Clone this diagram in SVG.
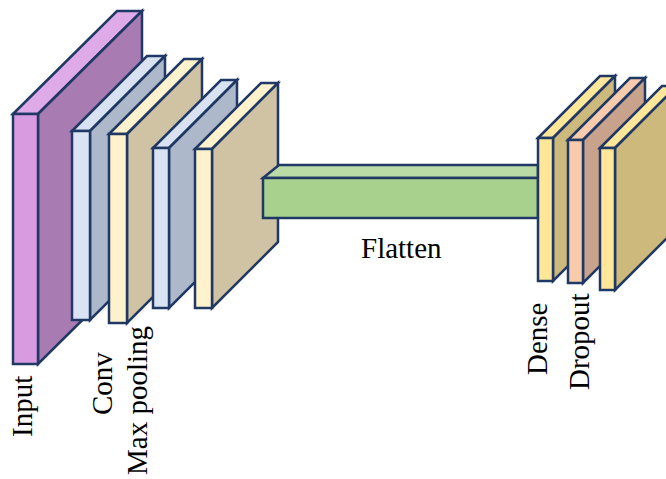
<svg xmlns="http://www.w3.org/2000/svg" width="666" height="479" viewBox="0 0 666 479">
<style>
  .s{stroke:#1f3864;stroke-width:2.5;stroke-linejoin:miter}
  .lbl{font-family:"Liberation Serif","Times New Roman",serif;font-size:29px;fill:#000}
  .in-f{fill:#d89be0}.in-t{fill:#dfaae8}.in-s{fill:#a97bb3}
  .cv-f{fill:#dae3f3}.cv-t{fill:#d9e2f2}.cv-s{fill:#adb9ca}
  .mp-f{fill:#fff2cc}.mp-t{fill:#fff2cc}.mp-s{fill:#d0c3a3}
  .fl-f{fill:#a9d18e}.fl-t{fill:#badba6}
  .de-f{fill:#ffe699}.de-t{fill:#ffe699}.de-s{fill:#cdb97b}
  .dr-f{fill:#f8cbad}.dr-t{fill:#f8cbad}.dr-s{fill:#c9a28b}
</style>
<rect width="666" height="479" fill="#ffffff"/>
<g id="input">
  <polygon class="s in-t" points="13,114 117,11 142,11 38,114"/>
  <polygon class="s in-s" points="38,114 142,11 142,261 38,364"/>
  <rect class="s in-f" x="13" y="114" width="25" height="250"/>
</g>
<g id="conv1">
  <polygon class="s cv-t" points="72,131 147,56 165,56 90,131"/>
  <polygon class="s cv-s" points="90,131 165,56 165,245 90,320"/>
  <rect class="s cv-f" x="72" y="131" width="18" height="189"/>
</g>
<g id="maxpool1">
  <polygon class="s mp-t" points="109,134 184,59 202,59 127,134"/>
  <polygon class="s mp-s" points="127,134 202,59 202,248 127,323"/>
  <rect class="s mp-f" x="109" y="134" width="18" height="189"/>
</g>
<g id="conv2">
  <polygon class="s cv-t" points="153,148 221,80 237,80 169,148"/>
  <polygon class="s cv-s" points="169,148 237,80 237,240 169,308"/>
  <rect class="s cv-f" x="153" y="148" width="16" height="160"/>
</g>
<g id="maxpool2">
  <polygon class="s mp-t" points="195,149 261,83 278,83 212,149"/>
  <polygon class="s mp-s" points="212,149 278,83 278,242 212,308"/>
  <rect class="s mp-f" x="195" y="149" width="17" height="159"/>
</g>
<g id="flatten">
  <polygon class="s fl-t" points="263,178 279,165 538,165 538,178"/>
  <rect class="s fl-f" x="263" y="178" width="275" height="40"/>
  <text class="lbl" x="361" y="258">Flatten</text>
</g>
<g id="dense">
  <polygon class="s de-t" points="538,138 600,76 615,76 553,138"/>
  <polygon class="s de-s" points="553,138 615,76 615,219 553,281"/>
  <rect class="s de-f" x="538" y="138" width="15" height="143"/>
</g>
<g id="dropout">
  <polygon class="s dr-t" points="568,140 630,78 645,78 583,140"/>
  <polygon class="s dr-s" points="583,140 645,78 645,221 583,283"/>
  <rect class="s dr-f" x="568" y="140" width="15" height="143"/>
</g>
<g id="dense2">
  <polygon class="s de-t" points="600,148 662,86 677,86 615,148"/>
  <polygon class="s de-s" points="615,148 677,86 677,228 615,290"/>
  <rect class="s de-f" x="600" y="148" width="15" height="142"/>
</g>
<g id="labels">
  <text class="lbl" transform="translate(32,437) rotate(-90)">Input</text>
  <text class="lbl" transform="translate(112,415) rotate(-90)">Conv</text>
  <text class="lbl" transform="translate(147,475) rotate(-90)">Max pooling</text>
  <text class="lbl" transform="translate(547,375) rotate(-90)">Dense</text>
  <text class="lbl" transform="translate(589,390) rotate(-90)">Dropout</text>
</g>
<g id="connectors"></g>
</svg>
